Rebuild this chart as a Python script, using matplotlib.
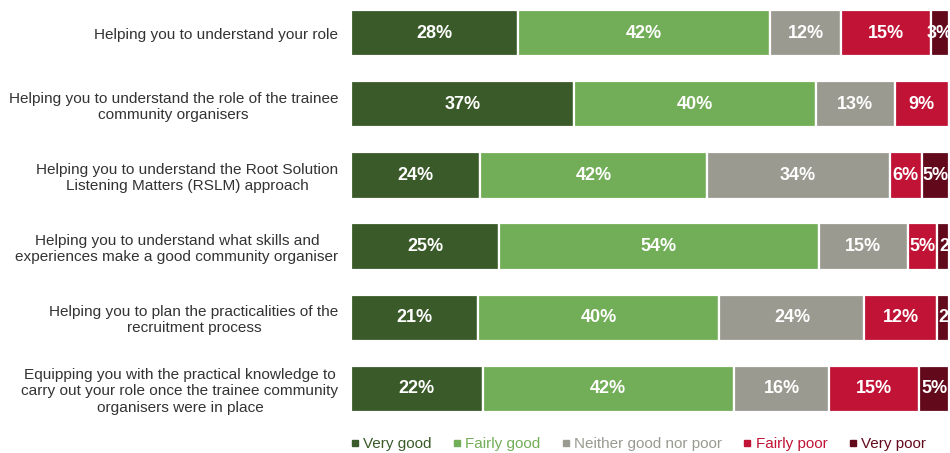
import matplotlib
matplotlib.use("Agg")
import matplotlib.pyplot as plt
from matplotlib.lines import Line2D
import numpy as np

plt.rcParams['font.family'] = ['Liberation Sans', 'DejaVu Sans']

categories = [
    "Helping you to understand your role",
    "Helping you to understand the role of the trainee\ncommunity organisers",
    "Helping you to understand the Root Solution\nListening Matters (RSLM) approach",
    "Helping you to understand what skills and\nexperiences make a good community organiser",
    "Helping you to plan the practicalities of the\nrecruitment process",
    "Equipping you with the practical knowledge to\ncarry out your role once the trainee community\norganisers were in place",
]
series_names = ["Very good", "Fairly good", "Neither good nor poor", "Fairly poor", "Very poor"]
very_good = [28, 37, 24, 25, 21, 22]
fairly_good = [42, 40, 42, 54, 40, 42]
neither = [12, 13, 34, 15, 24, 16]
fairly_poor = [15, 9, 6, 5, 12, 15]
very_poor = [3, 0, 5, 2, 2, 5]
colors = ["#3a5a29", "#72ad57", "#9a9a91", "#c01335", "#620a1c"]

series = np.array([very_good, fairly_good, neither, fairly_poor, very_poor], dtype=float)
totals = series.sum(axis=0)
shares = series / totals * 100  # each row fills the full width

fig = plt.figure(figsize=(9.5, 4.53), dpi=100)
ax = fig.add_axes([351 / 950, 1 - 412 / 453, (949 - 351) / 950, (412 - 10) / 453])

y = np.arange(len(categories))
height = 0.65
left = np.zeros(len(categories))
for i, (name, col) in enumerate(zip(series_names, colors)):
    w = shares[i]
    bars = ax.barh(y, w, left=left, height=height, color=col, edgecolor="white", linewidth=1.6)
    for j, patch in enumerate(bars.patches):
        if series[i, j] <= 0:
            continue
        narrow = w[j] < 2.5
        x = left[j] + 0.3 if narrow else left[j] + w[j] / 2
        t = ax.text(x, y[j], f"{int(series[i, j])}%", ha="left" if narrow else "center",
                    va="center", color="white", fontsize=13, fontweight="bold")
        t.set_clip_path(patch)
    left += w

ax.set_xlim(0, 100)
ax.set_ylim(len(categories) - 1 + height / 2, -height / 2)
ax.set_xticks([])
ax.set_yticks(y)
ax.set_yticklabels(categories, fontsize=11.1, color="#333333", multialignment="center")
ax.tick_params(axis="y", length=0, pad=9)
for s in ax.spines.values():
    s.set_visible(False)

handles = [Line2D([], [], marker="s", ls="", color=c, markersize=4.5) for c in colors]
leg = fig.legend(handles, series_names, loc="center", bbox_to_anchor=(638 / 950, 1 - 444 / 453),
                 ncol=5, frameon=False, fontsize=11, handletextpad=0.25, columnspacing=1.35,
                 handlelength=0.6)
for t, c in zip(leg.get_texts(), colors):
    t.set_color(c)

fig.savefig("out.png", dpi=100)
